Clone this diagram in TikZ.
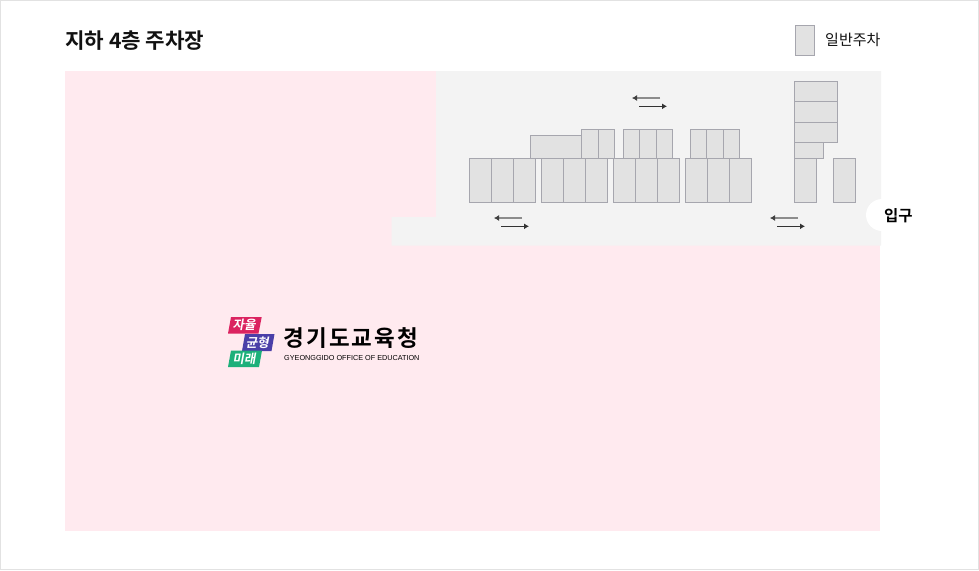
\documentclass[tikz,border=0pt]{standalone}
\usepackage{fontspec}
\setmainfont{Liberation Sans}
\newfontfamily\kr{Noto Sans CJK KR}
\newfontfamily\krb{Noto Sans CJK KR Bold}
\newfontfamily\krbs[LetterSpace=9]{Noto Sans CJK KR Bold}
\definecolor{pinkzone}{HTML}{FFEAEF}
\definecolor{road}{HTML}{F3F3F3}
\definecolor{slotfill}{HTML}{E2E2E2}
\definecolor{slotline}{HTML}{A6A6AE}
\definecolor{frameline}{HTML}{E2E2E2}
\definecolor{ink}{HTML}{111111}
\definecolor{logored}{HTML}{DB2360}
\definecolor{logoblue}{HTML}{4A3FA8}
\definecolor{logogreen}{HTML}{1DB07A}
\definecolor{arrowgray}{HTML}{8C8C8C}
\usetikzlibrary{arrows.meta}
\tikzset{
  slot/.style={draw=slotline,fill=slotfill,line width=1pt},
  arrowback/.style={draw=arrowgray,line width=1.8pt,-{Latex[length=5pt,width=6pt,color=black!75]}},
  arrowfwd/.style={draw=black!80,line width=1pt,-{Latex[length=5pt,width=6pt]}},
  logotxt/.style={text=white,font=\krb\fontsize{12.5}{12.5}\selectfont,inner sep=0pt,anchor=center,xslant=0.18},
}
\newcommand{\slotrow}[5]{% x0, step, n, ytop, ybottom
  \foreach \k in {1,...,#3}{
    \draw[slot] ({#1+(\k-1)*#2},#4) rectangle ({#1+\k*#2},#5);
  }}
\begin{document}
\begin{tikzpicture}[x=1pt,y=-1pt]
\useasboundingbox (0,0) rectangle (979,570);
\fill[white] (0,0) rectangle (979,570);
\draw[frameline,line width=1pt] (0.5,0.5) rectangle (978.5,569.5);
% zones
\fill[pinkzone] (65,71) rectangle (880,531);
\fill[road] (436,71) -- (881,71) -- (881,245.5) -- (391.5,245.5) -- (391.5,217) -- (436,217) -- cycle;
\fill[white] (882,215) circle[radius=16];
% slots: bottom row
\slotrow{469.5}{22}{3}{158.5}{202.5}
\slotrow{541.5}{22}{3}{158.5}{202.5}
\slotrow{613.5}{22}{3}{158.5}{202.5}
\slotrow{685.5}{22}{3}{158.5}{202.5}
% slots: upper row
\draw[slot] (530.5,135.5) rectangle (581.5,158.5);
\draw[slot] (581.5,129.5) rectangle (598.5,158.5);
\draw[slot] (598.5,129.5) rectangle (614.5,158.5);
\draw[slot] (623.5,129.5) rectangle (639.5,158.5);
\draw[slot] (639.5,129.5) rectangle (656.5,158.5);
\draw[slot] (656.5,129.5) rectangle (672.5,158.5);
\draw[slot] (690.5,129.5) rectangle (706.5,158.5);
\draw[slot] (706.5,129.5) rectangle (723.5,158.5);
\draw[slot] (723.5,129.5) rectangle (739.5,158.5);
% slots: right block
\draw[slot] (794.5,81.5) rectangle (837.5,101.5);
\draw[slot] (794.5,101.5) rectangle (837.5,122.5);
\draw[slot] (794.5,122.5) rectangle (837.5,142.5);
\draw[slot] (794.5,142.5) rectangle (823.5,158.5);
\draw[slot] (794.5,158.5) rectangle (816.5,202.5);
\draw[slot] (833.5,158.5) rectangle (855.5,202.5);
% arrows
\coordinate (a1s) at (660,98); \coordinate (a1e) at (632,98);
\coordinate (b1s) at (639,106.3); \coordinate (b1e) at (667,106.3);
\coordinate (a2s) at (522,218); \coordinate (a2e) at (494,218);
\coordinate (b2s) at (501,226.3); \coordinate (b2e) at (529,226.3);
\coordinate (a3s) at (798,218); \coordinate (a3e) at (770,218);
\coordinate (b3s) at (777,226.3); \coordinate (b3e) at (805,226.3);
\foreach \n in {1,2,3}{
  \draw[arrowback] (a\n s) -- (a\n e);
  \draw[arrowfwd] (b\n s) -- (b\n e);
}
% header
\node[anchor=west,inner sep=0pt,text=ink,font=\krb\fontsize{21.2}{21.2}\selectfont] (title) at (65,40.5) {지하 4층 주차장};
\draw[slot] (795.5,25.5) rectangle (814.5,55.5);
\node[anchor=west,inner sep=0pt,text=ink,font=\kr\fontsize{15}{15}\selectfont] (legend) at (825,40.3) {일반주차};
\node[anchor=west,inner sep=0pt,text=black,font=\krb\fontsize{15.5}{15.5}\selectfont] (entry) at (884,215.5) {입구};
% logo
\fill[logored] (231,317) -- (261.7,317) -- (258.5,333.5) -- (228,333.5) -- cycle;
\fill[logoblue] (245,334) -- (274.5,334) -- (271.5,351) -- (242,351) -- cycle;
\fill[logogreen] (231,350.5) -- (262,350.5) -- (259,367) -- (228,367) -- cycle;
\node[logotxt] (l1) at (245,325.3) {자율};
\node[logotxt] (l2) at (258.3,342.5) {균형};
\node[logotxt] (l3) at (245,358.8) {미래};
\node[anchor=west,inner sep=0pt,text=black,font=\krbs\fontsize{22.5}{22.5}\selectfont] (org) at (283.5,338.5) {경기도교육청};
\node[anchor=west,inner sep=0pt,text=black,font=\fontsize{7.25}{7.25}\selectfont] (orgen) at (284,357.6) {GYEONGGIDO OFFICE OF EDUCATION};
\end{tikzpicture}
\end{document}
